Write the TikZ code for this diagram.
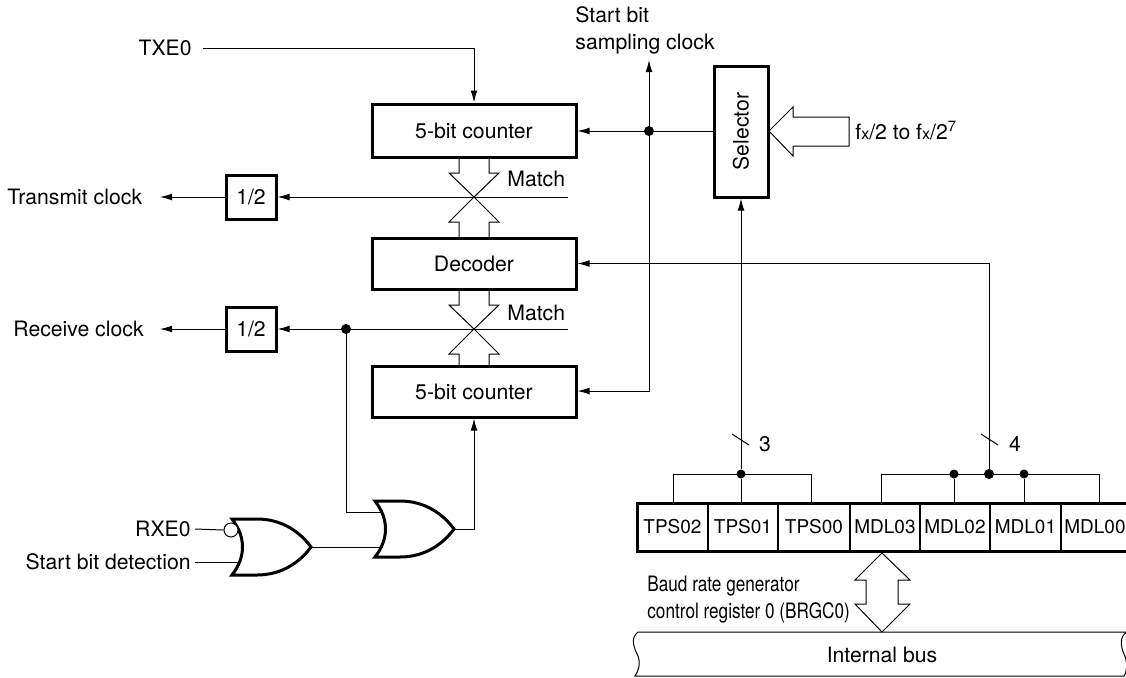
\documentclass[tikz,border=0pt]{standalone}
\usepackage{fontspec}
\setmainfont{TeX Gyre Heros}
\usetikzlibrary{arrows.meta,positioning,calc}

\tikzset{
  wire/.style={line width=.5pt},
  sig/.style={wire,-{Latex[length=6pt,width=3.4pt]}},
  heavybox/.style={draw,fill=white,line width=1.5pt,inner sep=0pt,font=\fontsize{10.6}{13}\selectfont},
  dot/.style={circle,fill=black,inner sep=0pt,minimum size=5pt},
  lbl/.style={inner sep=2pt,font=\fontsize{10.6}{13.5}\selectfont},
  cell/.style={draw,line width=.6pt,inner sep=0pt,outer sep=0pt,minimum height=24pt,font=\fontsize{9.5}{12}\selectfont},
  orgate/.pic={
    \draw[line width=1.5pt,fill=white,line join=miter]
      (0,0) -- (25,0) .. controls (50,0) and (68,13) .. (79,28)
      .. controls (68,43) and (50,56) .. (25,56) -- (0,56)
      .. controls (14,38) and (14,18) .. (0,0) -- cycle;
    \coordinate (-in1) at (8,11);
    \coordinate (-in2) at (8,45);
    \coordinate (-out) at (79,28);
  },
  crossarrows/.pic={
    \draw[wire] (-15,-41) -- (-15,-24) -- (-25,-24) -- (0,0) -- (25,-24) -- (15,-24) -- (15,-41);
    \draw[wire] (-15,41) -- (-15,25) -- (-25,25) -- (0,0) -- (25,25) -- (15,25) -- (15,41);
  }
}

\begin{document}
\begin{tikzpicture}[x=.5pt,y=-.5pt]
  \useasboundingbox (0,0) rectangle (1126,677);

  % block arrows between counters and decoder
  \pic at (474,197) {crossarrows};
  \pic at (474,329) {crossarrows};

  % counters, decoder, dividers
  \node[heavybox,minimum width=102pt,minimum height=26.5pt] (cnttx) at (474,130.5) {5-bit counter};
  \node[heavybox,minimum width=102pt,minimum height=25.5pt] (decoder) at (474,263.5) {Decoder};
  \node[heavybox,minimum width=102pt,minimum height=25.5pt] (cntrx) at (474,391.5) {5-bit counter};
  \node[heavybox,minimum width=25pt,minimum height=22pt] (divtx) at (251,197) {1/2};
  \node[heavybox,minimum width=25pt,minimum height=22pt] (divrx) at (251,329) {1/2};
  \node[heavybox,minimum width=27pt,minimum height=65.5pt] (selector) at (741,131.5) {\rotatebox{90}{Selector}};

  % left labels
  \node[lbl,anchor=west] (txclk) at (3,197) {Transmit clock};
  \node[lbl,anchor=west] (rxclk) at (9,329) {Receive clock};
  \node[lbl,anchor=east] (txe) at (196,48) {TXE0};
  \node[lbl,anchor=east] (rxe) at (195,529) {RXE0};
  \node[lbl,anchor=east] (startdet) at (195,562) {Start bit detection};
  \node[lbl,anchor=west,align=left] (sampling) at (571,30) {Start bit\\sampling clock};
  \node[lbl,anchor=west] (matcha) at (503,179) {Match};
  \node[lbl,anchor=west] (matchb) at (503,313) {Match};
  \node[lbl,anchor=west] (fxlabel) at (851,131) {f{\fontsize{8}{8}\selectfont x}/2 to f{\fontsize{8}{8}\selectfont x}/2\textsuperscript{7}};

  % clock input
  \draw[wire] (849,117) -- (793,117) -- (793,107) -- (769,131) -- (793,156) -- (793,146) -- (849,146) -- cycle;

  % clock distribution
  \node[dot] (clkdot) at (649,131) {};
  \coordinate (samplingend) at (649,60);
  \coordinate (cntrxin) at (649,391);
  \draw[sig] (selector.west |- clkdot) -- (cnttx.east |- clkdot);
  \draw[sig] (clkdot) -- (samplingend);
  \draw[sig] (clkdot) -- (cntrxin) -- (cntrx.east |- cntrxin);

  % match lines
  \coordinate (matchaend) at (568,197);
  \coordinate (matchbend) at (568,329);
  \node[dot] (rxdot) at (346,329) {};
  \draw[sig] (matchaend) -- (divtx.east);
  \draw[sig] (matchbend) -- (divrx.east);
  \draw[sig] (divtx.west) -- (txclk.east -| 160,0);
  \draw[sig] (divrx.west) -- (rxclk.east -| 160,0);

  % TXE0
  \coordinate (txecorner) at (474,48);
  \draw[sig,shorten <=3.5pt] (txe.east) -- (txecorner) -- (cnttx.north);

  % gates
  \pic (orrx) at (232,519) {orgate};
  \pic (ormix) at (375,501) {orgate};
  \node[circle,draw,fill=white,wire,inner sep=0pt,minimum size=7pt] (rxnot) at (231,530) {};
  \draw[wire] (rxe.east) -- (rxnot.west);
  \draw[wire] (startdet.east) -- (startdet.east -| orrx-in2);
  \draw[wire] (orrx-out) -- (orrx-out -| ormix-in2);
  \draw[wire] (rxdot) |- (ormix-in1);
  \draw[sig] (ormix-out) -| (cntrx.south);

  % register
  \node[cell,minimum width=35.5pt] (tps02) at (672.5,527) {TPS02};
  \node[cell,minimum width=35pt,right=0pt of tps02] (tps01) {TPS01};
  \node[cell,minimum width=36pt,right=0pt of tps01] (tps00) {TPS00};
  \node[cell,minimum width=35pt,right=0pt of tps00] (mdl03) {MDL03};
  \node[cell,minimum width=35pt,right=0pt of mdl03] (mdl02) {MDL02};
  \node[cell,minimum width=35.5pt,right=0pt of mdl02] (mdl01) {MDL01};
  \node[cell,minimum width=34pt,right=0pt of mdl01] (mdl00) {MDL00};
  \draw[line width=1.5pt] (tps02.north west) rectangle (mdl00.south east);

  % TPS bits
  \node[dot,minimum size=4.5pt] (tpsdot) at (741,474) {};
  \coordinate (tpsleft) at (673,474);
  \coordinate (tpsright) at (811,474);
  \draw[wire] (tpsleft |- tps02.north) -- (tpsleft) -- (tpsright) -- (tpsright |- tps00.north);
  \draw[wire] (tpsdot) -- (tpsdot |- tps01.north);
  \draw[sig] (tpsdot) -- (tpsdot |- selector.south);

  % MDL bits
  \node[dot,minimum size=4.5pt] (mdldota) at (954,474) {};
  \node[dot,minimum size=5pt] (mdldotb) at (989,474) {};
  \node[dot,minimum size=4.5pt] (mdldotc) at (1024,474) {};
  \coordinate (mdlleft) at (881,474);
  \coordinate (mdlright) at (1099,474);
  \draw[wire] (mdlleft |- mdl03.north) -- (mdlleft) -- (mdlright) -- (mdlright |- mdl00.north);
  \draw[wire] (mdldota) -- (mdldota |- mdl02.north);
  \draw[wire] (mdldotc) -- (mdldotc |- mdl01.north);
  \draw[sig] (mdldotb) |- (decoder.east);

  % bus width marks
  \draw[wire] (732,434) -- (749,445);
  \draw[wire] (981,434) -- (998,445);
  \node[lbl] (widtha) at (765,444) {3};
  \node[lbl] (widthb) at (1015,444) {4};

  % register access
  \node[lbl,anchor=west,align=left] (baud) at (643,600) {\scalebox{.81}[1]{Baud rate generator}\\\scalebox{.81}[1]{control register 0 (BRGC0)}};
  \draw[wire] (882,553) -- (910,580) -- (898,580) -- (898,604) -- (910,604) -- (882,632)
    -- (855,604) -- (866,604) -- (866,580) -- (855,580) -- cycle;

  % internal bus
  \draw[wire] (638,632) -- (1127,632) .. controls (1120,636) and (1120,645) .. (1124,654)
    .. controls (1128,662) and (1127,672) .. (1124,676) -- (635,676)
    .. controls (638,672) and (641,664) .. (638,656)
    .. controls (634,648) and (630,638) .. (638,632) -- cycle;
  \node[lbl] (busname) at (882,655) {Internal bus};
\end{tikzpicture}
\end{document}
